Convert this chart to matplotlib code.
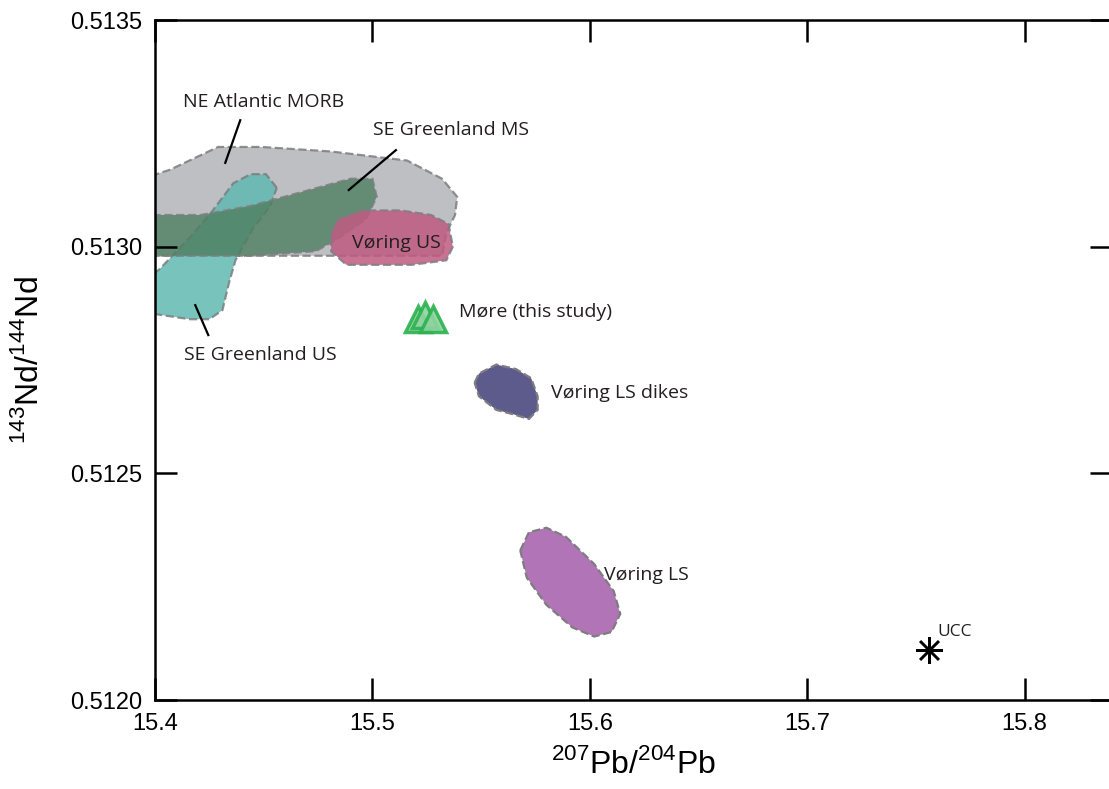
import matplotlib
matplotlib.use("Agg")
import matplotlib.pyplot as plt
from matplotlib.patches import Polygon

plt.rcParams['font.family'] = 'Liberation Sans'
plt.rcParams['mathtext.fontset'] = 'custom'
plt.rcParams['mathtext.rm'] = 'Liberation Sans'

# field outlines (207Pb/204Pb, 143Nd/144Nd)
morb_x = [15.388, 15.407, 15.429, 15.449, 15.481, 15.516, 15.532, 15.539, 15.538, 15.534, 15.532, 15.481, 15.444, 15.388]
morb_y = [0.51314, 0.51317, 0.51322, 0.51322, 0.51321, 0.51319, 0.51315, 0.51311, 0.51307, 0.51303, 0.51298, 0.51298, 0.51298, 0.51298]

segl_us_x = [15.456, 15.451, 15.444, 15.436, 15.425, 15.416, 15.402, 15.388, 15.388, 15.402, 15.416, 15.425, 15.431, 15.434, 15.437, 15.445, 15.453]
segl_us_y = [0.51313, 0.51316, 0.51316, 0.51314, 0.51307, 0.51302, 0.51295, 0.51290, 0.51286, 0.51285, 0.51284, 0.51284, 0.51286, 0.51292, 0.51297, 0.51304, 0.51309]

segl_ms_x = [15.388, 15.421, 15.444, 15.467, 15.490, 15.500, 15.502, 15.497, 15.485, 15.474, 15.444, 15.388]
segl_ms_y = [0.51307, 0.51307, 0.51309, 0.51312, 0.51315, 0.51315, 0.51311, 0.51306, 0.51302, 0.51299, 0.51298, 0.51298]

vus_x = [15.481, 15.484, 15.495, 15.513, 15.527, 15.535, 15.537, 15.534, 15.518, 15.488, 15.481]
vus_y = [0.51303, 0.51306, 0.51308, 0.51308, 0.51307, 0.51305, 0.51300, 0.51297, 0.51296, 0.51296, 0.51299]

dikes_x = [15.547, 15.549, 15.557, 15.566, 15.573, 15.576, 15.576, 15.572, 15.565, 15.557, 15.549]
dikes_y = [0.51270, 0.51272, 0.51274, 0.51273, 0.51271, 0.51267, 0.51264, 0.51262, 0.51263, 0.51264, 0.51267]

vls_x = [15.568, 15.572, 15.580, 15.589, 15.602, 15.611, 15.614, 15.610, 15.602, 15.592, 15.580, 15.571]
vls_y = [0.51233, 0.51237, 0.51238, 0.51236, 0.51230, 0.51224, 0.51219, 0.51215, 0.51214, 0.51216, 0.51221, 0.51227]

# Møre samples and UCC
more_x = [15.521, 15.524, 15.528]
more_y = [0.51284, 0.51285, 0.51284]
ucc_x, ucc_y = 15.756, 0.51211

fig = plt.figure(figsize=(11.09, 7.89), dpi=100)
ax = fig.add_axes([0.1398, 0.1128, 0.8625, 0.8618])

fields = [
    (morb_x, morb_y, '#b3b4b8', 0.85),
    (segl_us_x, segl_us_y, '#62b9b2', 0.85),
    (segl_ms_x, segl_ms_y, '#4e7f5f', 0.8),
    (vus_x, vus_y, '#c05a80', 0.85),
    (dikes_x, dikes_y, '#5d5a8c', 1.0),
    (vls_x, vls_y, '#b174b6', 1.0),
]
for fx, fy, col, a in fields:
    poly = Polygon(list(zip(fx, fy)), closed=True, facecolor=col, alpha=a,
                   edgecolor='#7d7d80', linestyle='--', linewidth=1.6)
    ax.add_patch(poly)

ax.plot(more_x, more_y, '^', markersize=19, markerfacecolor='#8fd3a0',
        markeredgecolor='#2bb24f', markeredgewidth=2.5, alpha=0.9, linestyle='none')
ax.plot([ucc_x], [ucc_y], marker=(8, 2, 0), markersize=19, color='black',
        markeredgewidth=1.8, linestyle='none')

tc = '#231f20'
fs = 14
ax.text(15.4498, 0.513319, 'NE Atlantic MORB', ha='center', va='center', fontsize=fs, color=tc, family='Open Sans')
ax.plot([15.4392, 15.4323], [0.513279, 0.513185], color='black', lw=1.6)
ax.text(15.5361, 0.513257, 'SE Greenland MS', ha='center', va='center', fontsize=fs, color=tc, family='Open Sans')
ax.plot([15.5108, 15.4891], [0.513213, 0.513125], color='black', lw=1.6)
ax.text(15.4485, 0.512761, 'SE Greenland US', ha='center', va='center', fontsize=fs, color=tc, family='Open Sans')
ax.plot([15.4185, 15.4245], [0.512871, 0.512805], color='black', lw=1.6)
ax.text(15.5108, 0.513008, 'Vøring US', ha='center', va='center', fontsize=fs, color=tc, family='Open Sans')
ax.text(15.5398, 0.512856, 'Møre (this study)', ha='left', va='center', fontsize=fs, color=tc, family='Open Sans')
ax.text(15.5823, 0.512677, 'Vøring LS dikes', ha='left', va='center', fontsize=fs, color=tc, family='Open Sans')
ax.text(15.6063, 0.512276, 'Vøring LS', ha='left', va='center', fontsize=fs, color=tc, family='Open Sans')
ax.text(15.7600, 0.512150, 'UCC', ha='left', va='center', fontsize=12.5, color=tc, family='Open Sans')

ax.set_xlim(15.4, 15.84)
ax.set_ylim(0.5120, 0.5135)
ax.set_xticks([15.4, 15.5, 15.6, 15.7, 15.8])
ax.set_xticklabels(['15.4', '15.5', '15.6', '15.7', '15.8'])
ax.set_yticks([0.5120, 0.5125, 0.5130, 0.5135])
ax.set_yticklabels(['0.5120', '0.5125', '0.5130', '0.5135'])
ax.tick_params(direction='in', length=16, width=1.8, top=True, right=True,
               labelsize=17, pad=9)
for s in ax.spines.values():
    s.set_linewidth(1.8)

ax.set_xlabel(r'$^{207}$Pb/$^{204}$Pb', fontsize=23, labelpad=10)
ax.set_ylabel(r'$^{143}$Nd/$^{144}$Nd', fontsize=23, labelpad=18)

fig.savefig('out.png', dpi=100)
